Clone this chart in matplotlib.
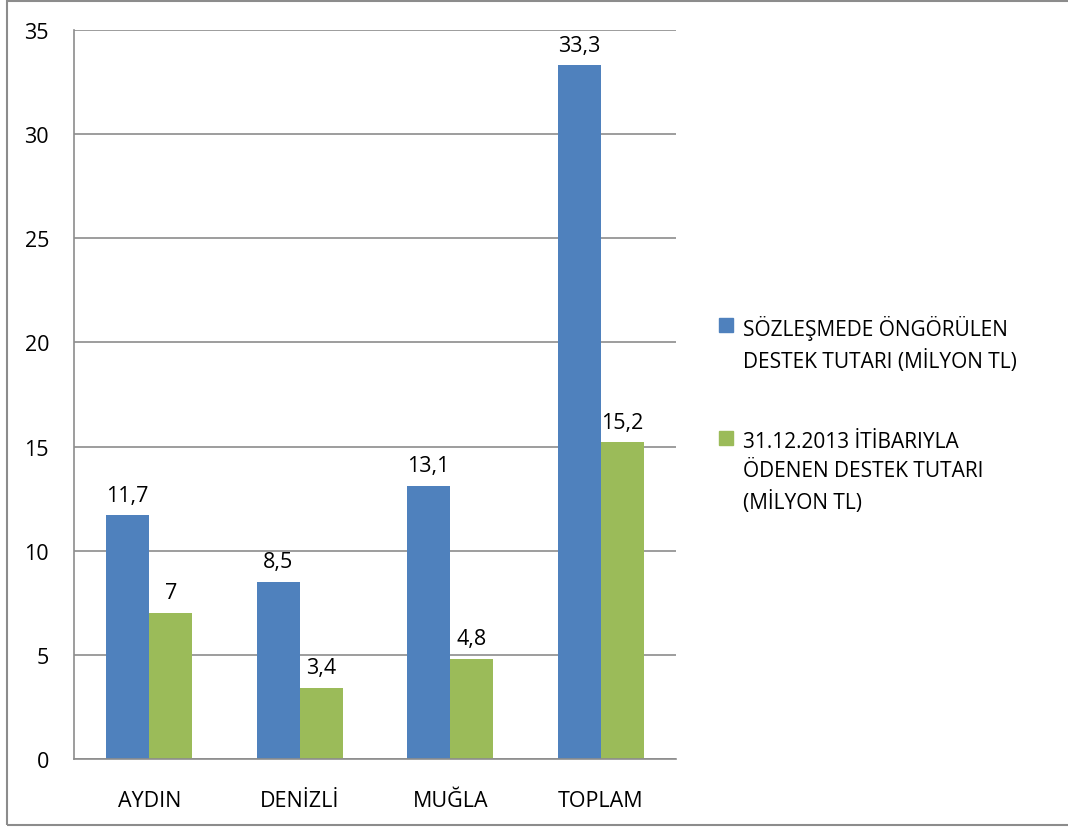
import matplotlib.pyplot as plt
import numpy as np
from matplotlib.patches import Rectangle

plt.rcParams['font.family'] = ['Open Sans', 'DejaVu Sans']

categories = ['AYDIN', 'DENİZLİ', 'MUĞLA', 'TOPLAM']
contracted = [11.7, 8.5, 13.1, 33.3]
paid = [7, 3.4, 4.8, 15.2]
series_names = ['SÖZLEŞMEDE ÖNGÖRÜLEN\nDESTEK TUTARI (MİLYON TL)',
                '31.12.2013 İTİBARIYLA\nÖDENEN DESTEK TUTARI\n(MİLYON TL)']
labels_contracted = ['11,7', '8,5', '13,1', '33,3']
labels_paid = ['7', '3,4', '4,8', '15,2']

blue = '#4F81BD'
green = '#9BBB59'
grid_gray = '#8C8C8C'

fig = plt.figure(figsize=(10.68, 8.28), dpi=100)
ax = fig.add_axes([74 / 1068, 1 - 760 / 828, 602 / 1068, 729 / 828])

x = np.arange(len(categories))
w = 0.286
b1 = ax.bar(x - w / 2, contracted, w, color=blue)
b2 = ax.bar(x + w / 2, paid, w, color=green)

# value labels above each bar
for bars, texts in [(b1, labels_contracted), (b2, labels_paid)]:
    for rect, txt in zip(bars, texts):
        ax.annotate(txt, (rect.get_x() + rect.get_width() / 2, rect.get_height()),
                    xytext=(0, 7), textcoords='offset points', ha='center', va='bottom',
                    fontsize=15.5)

ax.set_xlim(-0.5, len(categories) - 0.5)
ax.set_ylim(0, 35)
ax.set_yticks(np.arange(0, 36, 5))
ax.set_xticks(x)
ax.set_xticklabels(categories)
ax.tick_params(axis='both', length=0, labelsize=15.5)
ax.tick_params(axis='y', pad=18)
ax.tick_params(axis='x', pad=22)
ax.yaxis.grid(True, color=grid_gray, linewidth=1.2)
ax.set_axisbelow(True)
for s in ['top', 'right']:
    ax.spines[s].set_visible(False)
for s in ['left', 'bottom']:
    ax.spines[s].set_color(grid_gray)
    ax.spines[s].set_linewidth(1.2)

# legend drawn by hand: square aligned with the first line of each label
for color, name, ysq, ytxt in [(blue, series_names[0], 326, 316), (green, series_names[1], 439, 432)]:
    fig.patches.append(Rectangle((719 / 1068, 1 - (ysq + 7) / 828), 14 / 1068, 14 / 828,
                                 transform=fig.transFigure, color=color))
    fig.text(743 / 1068, 1 - ytxt / 828, name, ha='left', va='top',
             fontsize=15, linespacing=1.5)

# outer chart border
fig.patches.append(Rectangle((7 / 1068, 2 / 828), 1.1, 824 / 828, transform=fig.transFigure,
                             fill=False, edgecolor=grid_gray, linewidth=1.5))

fig.savefig('out.png', dpi=100)
